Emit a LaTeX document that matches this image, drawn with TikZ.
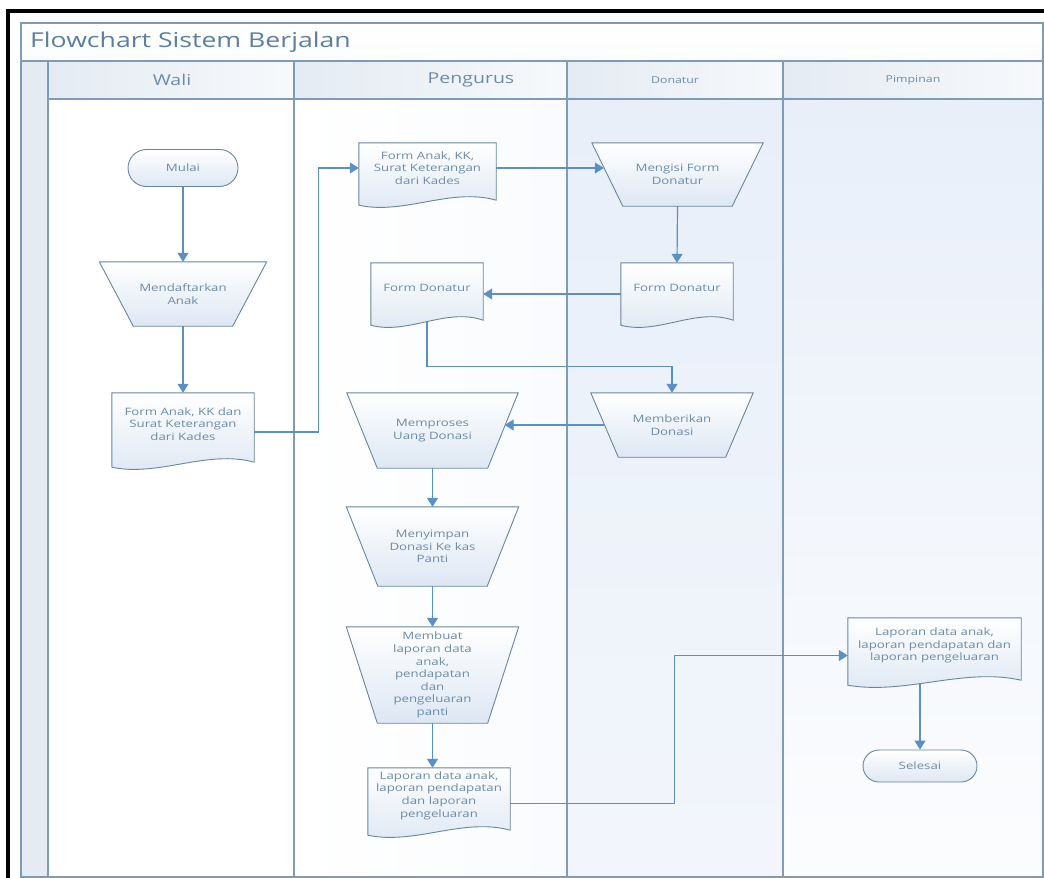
\documentclass[tikz,border=0pt]{standalone}
\usepackage{fontspec}
\setmainfont{Open Sans}[FakeStretch=1.3]
\usetikzlibrary{shapes.misc,arrows.meta,calc}

\definecolor{laneline}{HTML}{7E9CB8}
\definecolor{flowblue}{HTML}{5B90C6}
\definecolor{shapeedge}{HTML}{6A869D}
\definecolor{textblue}{HTML}{6B8CA8}
\definecolor{titleblue}{HTML}{5C7FA0}
\definecolor{paleblue}{HTML}{DDE7F3}
\definecolor{stripblue}{HTML}{E4EBF3}
\definecolor{laneblue}{HTML}{E8EFF9}

\newcommand{\boxfont}{\fontsize{10.2}{12.6}\selectfont}

\pgfdeclarelayer{lanes}
\pgfdeclarelayer{shapes}
\pgfsetlayers{lanes,shapes,main}

% document symbol: rectangle with a wavy foot, drawn behind the node text
\newcommand{\docshape}[1]{%
  \begin{pgfonlayer}{shapes}
    \path[draw=shapeedge, line width=0.9pt, top color=white, bottom color=paleblue]
      let \p1=(#1.north west), \p2=(#1.south east), \n1={\x2-\x1} in
      (\x1,\y1) -- (\x2,\y1) -- (\x2,\y2-7pt)
      .. controls (\x1+0.67*\n1,\y2+6pt) and (\x1+0.33*\n1,\y2-22pt) .. (\x1,\y2-12pt) -- cycle;
  \end{pgfonlayer}}
% manual operation: wide top, narrow foot; #2 = overhang of the top edge
\newcommand{\procshape}[2]{%
  \begin{pgfonlayer}{shapes}
    \path[draw=shapeedge, line width=0.9pt, top color=white, bottom color=paleblue]
      ([xshift=-#2]#1.north west) -- ([xshift=#2]#1.north east)
      -- (#1.south east) -- (#1.south west) -- cycle;
  \end{pgfonlayer}}

\tikzset{
  proc/.style={rectangle, inner sep=0pt, text=textblue, align=center, font=\boxfont},
  doc/.style={rectangle, inner sep=0pt, text=textblue, align=center, font=\boxfont},
  term/.style={rounded rectangle, draw=shapeedge, line width=0.9pt, top color=white,
    bottom color=paleblue, text=textblue, inner sep=0pt, font=\boxfont},
  lanehead/.style={text=textblue, inner sep=0pt},
  flow/.style={draw=flowblue, line width=1.2pt, -{Triangle[width=11pt,length=9pt]}},
}

\begin{document}
\begin{tikzpicture}[x=1pt, y=-1pt]
  \useasboundingbox (0,0) rectangle (1044,878);

  % pool and lanes
  \begin{pgfonlayer}{lanes}
    \fill[white] (0,0) rectangle (1044,878);
    \shade[top color=white, bottom color=white!85!stripblue] (21,23) rectangle (1043,61);
    \foreach \xa/\xb in {48/294, 294/567, 567/783, 783/1043}
      \shade[left color=stripblue, right color=white!70!stripblue] (\xa,61) rectangle (\xb,99);
    \fill[stripblue] (21,61) rectangle (48,877);
    \shade[left color=white, right color=white!75!laneblue] (294,99) rectangle (567,877);
    \shade[top color=laneblue, bottom color=white!45!laneblue] (567,99) rectangle (783,877);
    \shade[top color=laneblue, bottom color=white!85!laneblue] (783,99) rectangle (1043,877);
    \draw[laneline, line width=1.3pt] (21,23) rectangle (1043,877);
    \draw[laneline, line width=1.3pt] (21,61) -- (1043,61);
    \draw[laneline, line width=1.3pt] (48,99) -- (1043,99);
    \foreach \xl in {48,294,567,783}
      \draw[laneline, line width=1.3pt] (\xl,61) -- (\xl,877);
    \draw[line width=3.5pt] (8,878) -- (8,11) -- (1044,11);
  \end{pgfonlayer}

  \node[anchor=west, inner sep=0pt, text=titleblue, font=\fontsize{20.5}{24}\selectfont] (judul) at (30,42) {Flowchart Sistem Berjalan};
  \node[lanehead, font=\fontsize{15}{18}\selectfont] (hwali) at (172,80) {Wali};
  \node[lanehead, font=\fontsize{15}{18}\selectfont] (hpengurus) at (471,80) {Pengurus};
  \node[lanehead, font=\fontsize{9.5}{11}\selectfont] (hdonatur) at (675,80) {Donatur};
  \node[lanehead, font=\fontsize{9.5}{11}\selectfont] (hpimpinan) at (913,80) {Pimpinan};

  % Wali
  \node[term, minimum width=110pt, minimum height=37pt] (mulai) at (183,168) {Mulai};
  \node[proc, minimum width=99pt, minimum height=64pt] (mdaftar) at (183,294) {Mendaftarkan\\Anak};
  \procshape{mdaftar}{34pt}
  \node[doc, minimum width=142pt, minimum height=62pt] (docwali) at (183,424) {Form Anak, KK dan\\Surat Keterangan\\dari Kades};
  \docshape{docwali}

  % Pengurus
  \node[doc, minimum width=137pt, minimum height=50pt] (docform) at (427.5,168) {Form Anak, KK,\\Surat Keterangan\\dari Kades};
  \docshape{docform}
  \node[doc, minimum width=112pt, minimum height=50pt] (docdonp) at (427,288) {Form Donatur};
  \docshape{docdonp}
  \node[proc, minimum width=110pt, minimum height=75pt] (memproses) at (432.5,430.5) {Memproses\\Uang Donasi};
  \procshape{memproses}{30.5pt}
  \node[proc, minimum width=109pt, minimum height=79pt] (menyimpan) at (432.5,546.5) {Menyimpan\\Donasi Ke kas\\Panti};
  \procshape{menyimpan}{31.5pt}
  \node[proc, minimum width=110pt, minimum height=96pt] (membuat) at (432.5,675) {Membuat\\laporan data\\anak,\\pendapatan\\dan\\pengeluaran\\panti};
  \procshape{membuat}{31pt}
  \node[doc, minimum width=142pt, minimum height=55pt] (doclapp) at (439,795.5) {Laporan data anak,\\laporan pendapatan\\dan laporan\\pengeluaran};
  \docshape{doclapp}

  % Donatur
  \node[proc, minimum width=109pt, minimum height=63pt] (mengisi) at (677.5,174.5) {Mengisi Form\\Donatur};
  \procshape{mengisi}{31pt}
  \node[doc, minimum width=112pt, minimum height=50pt] (docdond) at (677,288) {Form Donatur};
  \docshape{docdond}
  \node[proc, minimum width=107pt, minimum height=64pt] (memberikan) at (672,425) {Memberikan\\Donasi};
  \procshape{memberikan}{27.5pt}

  % Pimpinan
  \node[doc, minimum width=173pt, minimum height=55pt] (doclapk) at (934.5,645.5) {Laporan data anak,\\laporan pendapatan dan\\laporan pengeluaran};
  \docshape{doclapk}
  \node[term, minimum width=114pt, minimum height=32pt] (selesai) at (920,766) {Selesai};

  % alur
  \draw[flow] (mulai.south) -- (mdaftar.north);
  \draw[flow] (mdaftar.south) -- (docwali.north);
  \draw[flow] ([yshift=-8pt]docwali.east) -- ++(64,0) |- (docform.west);
  \draw[flow] (docform.east) -- ([xshift=-19pt]docform.east -| mengisi.west);
  \draw[flow] (mengisi.south) -- (docdond.north);
  \draw[flow] ([yshift=-6pt]docdond.west) -- ([yshift=-6pt]docdonp.east);
  \draw[flow] ([yshift=-8pt]docdonp.south) -- ++(0,45) -| (memberikan.north);
  \draw[flow] ([xshift=-14pt]memberikan.west) -- ([xshift=17pt]memberikan.west -| memproses.east);
  \draw[flow] (memproses.south) -- (menyimpan.north);
  \draw[flow] (menyimpan.south) -- (membuat.north);
  \draw[flow] (membuat.south) -- (membuat.south |- doclapp.north);
  \draw[flow] ([yshift=-8pt]doclapp.east) -- ++(164,0) |- ([yshift=-10pt]doclapk.west);
  \draw[flow] ([yshift=-10pt]doclapk.south -| selesai.north) -- (selesai.north);
\end{tikzpicture}
\end{document}
